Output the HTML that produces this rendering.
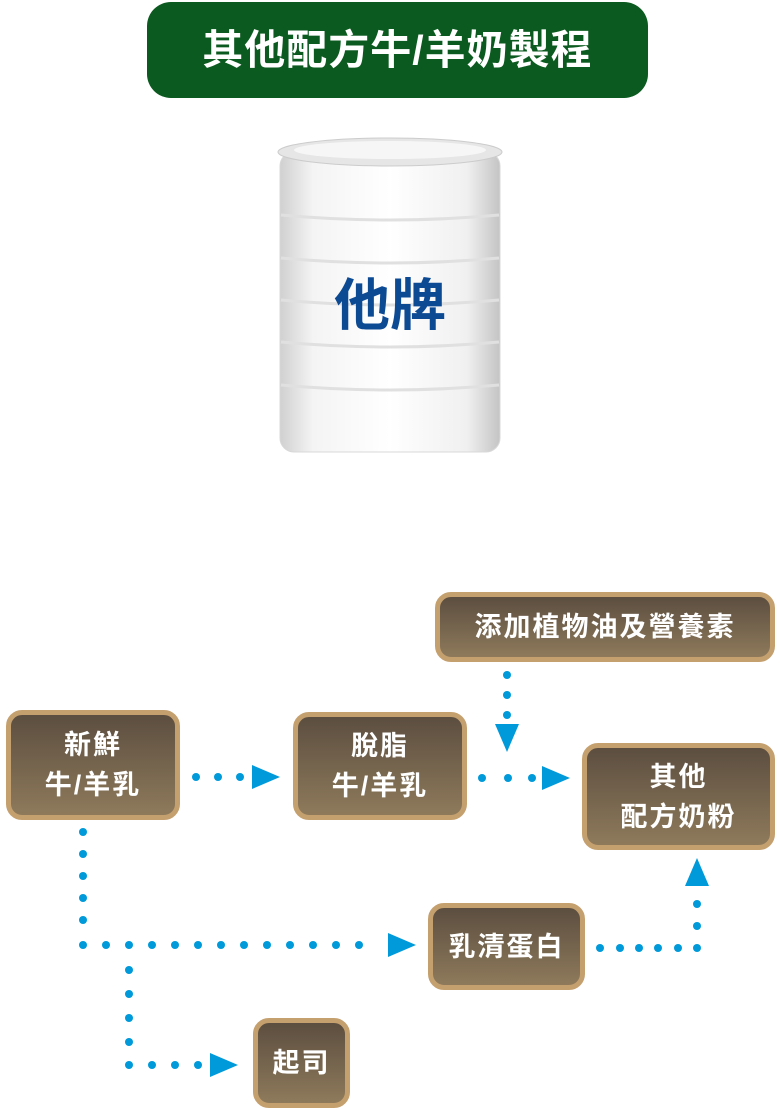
<!DOCTYPE html>
<html><head><meta charset="utf-8"><style>
html,body{margin:0;padding:0;background:#fff;}
body{width:780px;height:1110px;position:relative;overflow:hidden;font-family:"Liberation Sans","Noto Sans CJK TC",sans-serif;}
.title{position:absolute;left:147px;top:2px;width:501px;height:96px;background:#0b5a1f;border-radius:24px;color:#fff;font-weight:bold;font-size:41px;line-height:96px;text-align:center;letter-spacing:1px;}
.b{position:absolute;box-sizing:border-box;border:5px solid #c5a06f;border-radius:16px;background:linear-gradient(#5c4e40,#8e7a5b);color:#fff;font-weight:bold;font-size:27px;display:flex;align-items:center;justify-content:center;text-align:center;line-height:40px;letter-spacing:2px;}
svg{position:absolute;left:0;top:0;}
</style></head><body>
<div class="title">其他配方牛/羊奶製程</div>
<svg width="780" height="1110">
<defs>
<linearGradient id="cb" x1="0" x2="1"><stop offset="0" stop-color="#d0d0d0"/><stop offset="0.15" stop-color="#f4f4f4"/><stop offset="0.5" stop-color="#ffffff"/><stop offset="0.85" stop-color="#f0f0f0"/><stop offset="1" stop-color="#c4c4c4"/></linearGradient>
</defs>
<rect x="280" y="152" width="220" height="300" rx="14" fill="url(#cb)" stroke="#d8d8d8"/>
<ellipse cx="390" cy="152" rx="112" ry="14" fill="#e6e6e6" stroke="#ccc"/>
<ellipse cx="390" cy="150" rx="96" ry="9" fill="#f6f6f6"/>
<g stroke="#e0e0e0" stroke-width="3" fill="none">
<path d="M281 215 Q390 225 499 215"/><path d="M281 258 Q390 268 499 258"/><path d="M281 300 Q390 310 499 300"/><path d="M281 342 Q390 352 499 342"/><path d="M281 385 Q390 395 499 385"/>
</g>
<text x="390" y="325" font-size="56" font-weight="bold" fill="#0d4a94" text-anchor="middle" font-family="Liberation Sans,Noto Sans CJK TC,sans-serif">他牌</text>
<g fill="#009ada">
<circle cx="196" cy="777" r="4"/><circle cx="218" cy="777" r="4"/><circle cx="240" cy="777" r="4"/>
<polygon points="252,765 280,777 252,789"/>
<circle cx="482" cy="778" r="4"/><circle cx="508" cy="778" r="4"/><circle cx="532" cy="778" r="4"/>
<polygon points="542,766 570,778 542,790"/>
<circle cx="507" cy="675" r="4"/><circle cx="507" cy="695" r="4"/><circle cx="507" cy="715" r="4"/>
<polygon points="495,724 519,724 507,752"/>
<circle cx="600" cy="948" r="4"/><circle cx="620" cy="948" r="4"/><circle cx="639" cy="948" r="4"/><circle cx="658" cy="948" r="4"/><circle cx="678" cy="948" r="4"/><circle cx="697" cy="948" r="4"/>
<circle cx="697" cy="926" r="4"/><circle cx="697" cy="904" r="4"/>
<polygon points="685,886 709,886 697,858"/>
<circle cx="83" cy="832" r="4"/><circle cx="83" cy="854" r="4"/><circle cx="83" cy="876" r="4"/><circle cx="83" cy="898" r="4"/><circle cx="83" cy="920" r="4"/><circle cx="83" cy="945" r="4"/>
<circle cx="106" cy="945" r="4"/><circle cx="129" cy="945" r="4"/><circle cx="152" cy="945" r="4"/><circle cx="175" cy="945" r="4"/><circle cx="198" cy="945" r="4"/><circle cx="221" cy="945" r="4"/><circle cx="244" cy="945" r="4"/><circle cx="267" cy="945" r="4"/><circle cx="290" cy="945" r="4"/><circle cx="313" cy="945" r="4"/><circle cx="336" cy="945" r="4"/><circle cx="359" cy="945" r="4"/>
<polygon points="388,933 416,945 388,957"/>
<circle cx="129" cy="970" r="4"/><circle cx="129" cy="994" r="4"/><circle cx="129" cy="1018" r="4"/><circle cx="129" cy="1042" r="4"/><circle cx="129" cy="1065" r="4"/>
<circle cx="152" cy="1065" r="4"/><circle cx="175" cy="1065" r="4"/><circle cx="198" cy="1065" r="4"/>
<polygon points="210,1053 238,1065 210,1077"/>
</g>
</svg>
<div class="b" style="left:435px;top:592px;width:340px;height:70px;">添加植物油及營養素</div>
<div class="b" style="left:6px;top:710px;width:174px;height:110px;">新鮮<br>牛/羊乳</div>
<div class="b" style="left:293px;top:712px;width:174px;height:108px;">脫脂<br>牛/羊乳</div>
<div class="b" style="left:582px;top:743px;width:193px;height:107px;">其他<br>配方奶粉</div>
<div class="b" style="left:428px;top:903px;width:157px;height:87px;">乳清蛋白</div>
<div class="b" style="left:253px;top:1018px;width:97px;height:90px;">起司</div>
</body></html>
